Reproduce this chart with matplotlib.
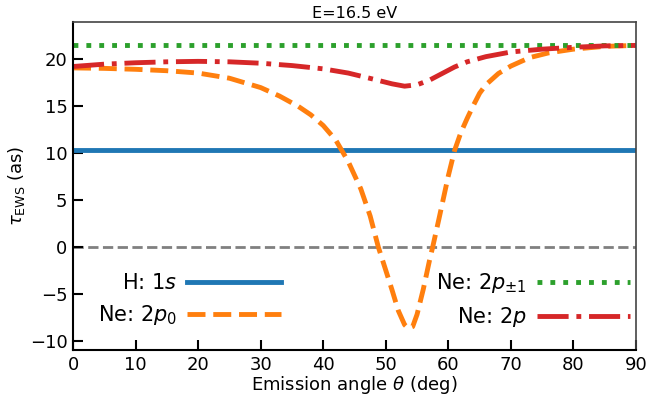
import matplotlib
matplotlib.use("Agg")
import matplotlib.pyplot as plt

# emission angles (deg) and EWS delays (as)
theta_h = [0, 90]
tau_h = [10.3, 10.3]

theta_pm1 = [0, 90]
tau_pm1 = [21.5, 21.5]

theta_p0 = [0, 5, 10, 15, 20, 25, 30, 33, 36, 38, 40, 42, 44, 46, 47.5, 48.8,
            50, 51, 52, 53, 53.6, 54.3, 55, 56, 57, 57.5, 58.5, 60, 61, 62,
            63, 64, 65, 66, 68, 70, 73, 76, 80, 85, 90]
tau_p0 = [19.1, 19.05, 18.95, 18.8, 18.55, 18.0, 17.0, 16.1, 15.0, 14.1, 12.95,
          11.4, 9.1, 6.2, 3.3, 0.0, -2.5, -4.6, -6.8, -8.3, -8.7, -8.5, -7.2,
          -4.5, -1.4, 0.0, 3.0, 7.6, 10.3, 12.2, 13.7, 15.1, 16.4, 17.3, 18.5,
          19.3, 20.2, 20.7, 21.1, 21.4, 21.5]

theta_p = [0, 5, 10, 15, 20, 25, 30, 35, 40, 44, 48, 51, 53, 55, 57, 59,
           61, 63, 66, 70, 75, 80, 85, 90]
tau_p = [19.25, 19.5, 19.65, 19.75, 19.8, 19.75, 19.6, 19.35, 19.0, 18.55,
         17.9, 17.4, 17.15, 17.3, 17.8, 18.5, 19.2, 19.75, 20.3, 20.8, 21.1,
         21.3, 21.45, 21.5]

fig = plt.figure(figsize=(6.48, 3.99), dpi=100)
ax = fig.add_axes([0.1127, 0.1228, 0.8688, 0.8221])

lw = 3.5
l1, = ax.plot(theta_h, tau_h, "-", color="tab:blue", lw=lw, label="H: 1$s$")
l2, = ax.plot(theta_p0, tau_p0, "--", color="tab:orange", lw=lw, label="Ne: 2$p_0$")
l3, = ax.plot(theta_pm1, tau_pm1, ":", color="tab:green", lw=lw, label="Ne: 2$p_{\\pm1}$")
l4, = ax.plot(theta_p, tau_p, "-.", color="tab:red", lw=lw, label="Ne: 2$p$")
ax.axhline(0, color="gray", lw=2, ls="--", zorder=0)

ax.set_xlim(0, 90)
ax.set_ylim(-11, 24)
ax.set_xticks(range(0, 91, 10))
ax.set_yticks(range(-10, 21, 5))
ax.tick_params(direction="in", length=7, width=1.5, labelsize=13,
               top=False, right=False, pad=4)
ax.spines["left"].set_linewidth(1.5)
ax.spines["bottom"].set_linewidth(1.5)
for s in ("top", "right"):
    ax.spines[s].set_color("#444444")
    ax.spines[s].set_linewidth(1.2)

ax.set_xlabel(r"Emission angle $\theta$ (deg)", fontsize=13, labelpad=0)
ax.set_ylabel(r"$\tau_{\rm EWS}$ (as)", fontsize=13, labelpad=2)
ax.set_title("E=16.5 eV", fontsize=11.5, pad=3)

leg_kw = dict(frameon=False, markerfirst=False, fontsize=15, handlelength=4.5,
              handletextpad=0.5, labelspacing=0.45, loc="center")
leg1 = ax.legend(handles=[l1, l2], bbox_to_anchor=(0.207, 0.152), **leg_kw)
ax.add_artist(leg1)
ax.legend(handles=[l3, l4], bbox_to_anchor=(0.817, 0.152), **leg_kw)

fig.savefig("out.png", dpi=100)
